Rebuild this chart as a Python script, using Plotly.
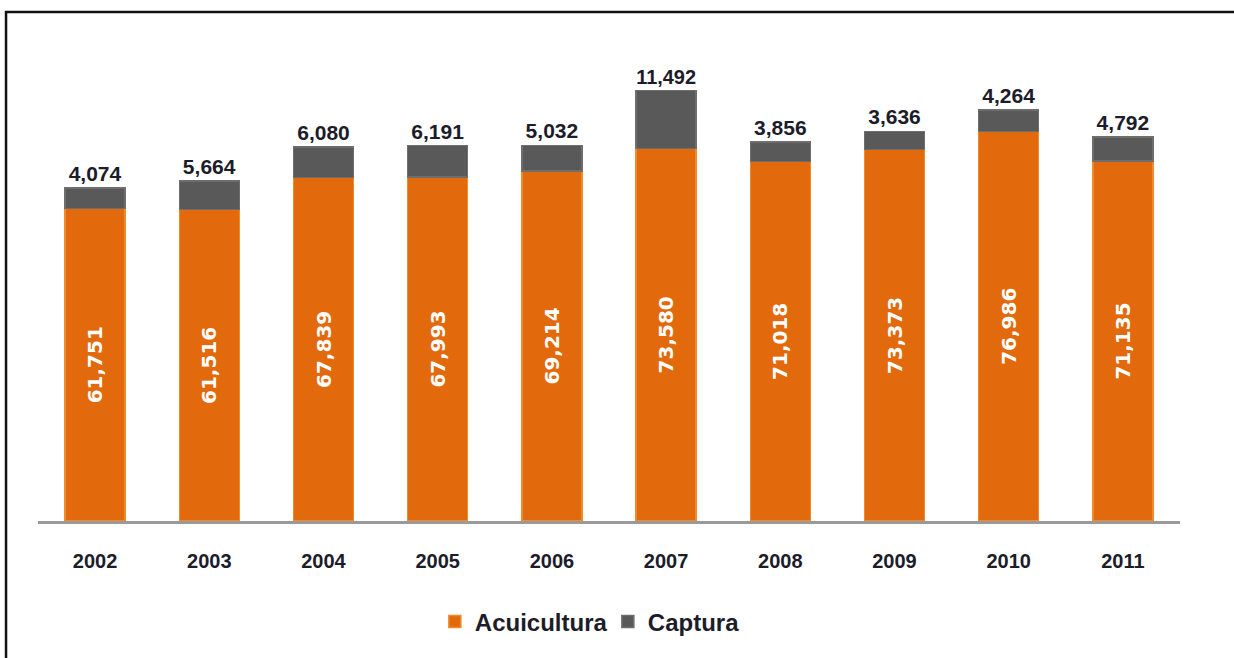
import plotly.graph_objects as go

years = ["2002", "2003", "2004", "2005", "2006", "2007", "2008", "2009", "2010", "2011"]
acuicultura = [61751, 61516, 67839, 67993, 69214, 73580, 71018, 73373, 76986, 71135]
captura = [4074, 5664, 6080, 6191, 5032, 11492, 3856, 3636, 4264, 4792]

ORANGE = "#E2690C"
GRAY = "#595959"
TEXT = "#1C1C2A"
SANS = "Liberation Sans, Arial, sans-serif"

fig = go.Figure()
fig.add_trace(go.Bar(
    x=years, y=acuicultura, name="Acuicultura",
    marker=dict(color=ORANGE, line=dict(color="#F08A2C", width=1.5)),
    texttemplate="%{y:,}", textposition="inside", insidetextanchor="middle",
    textangle=-90,
    insidetextfont=dict(color="white", size=20, family="DejaVu Sans, sans-serif", weight="bold"),
))
fig.add_trace(go.Bar(
    x=years, y=captura, name="Captura",
    marker=dict(color=GRAY, line=dict(color="#6E6E6E", width=1.5)),
    texttemplate="%{y:,}", textposition="outside", textangle=0,
    outsidetextfont=dict(color=TEXT, size=21, family=SANS, weight="bold"),
    cliponaxis=False,
))

# outer frame (top and left edges visible)
fig.add_shape(type="rect", xref="paper", yref="paper",
              x0=-0.028, x1=1.2, y0=-0.4, y1=1.058,
              line=dict(color="#111111", width=2.5), layer="below")

fig.update_layout(
    width=1234, height=658,
    margin=dict(l=38, r=54, t=40, b=137),
    barmode="stack", bargap=0.475,
    plot_bgcolor="white", paper_bgcolor="white",
    showlegend=True,
    legend=dict(orientation="h", x=0.499, xanchor="center", y=-0.21, yanchor="middle",
                font=dict(size=24, family=SANS, color=TEXT, weight="bold"),
                itemwidth=30, entrywidth=128, traceorder="normal"),
    xaxis=dict(showline=True, linecolor="#9A9A9A", linewidth=3, ticks="",
               ticklabelstandoff=20,
               tickfont=dict(size=20, family=SANS, color=TEXT, weight="bold")),
    yaxis=dict(range=[0, 95060], visible=False, showgrid=False, zeroline=False),
)

fig.write_html("out.html")
